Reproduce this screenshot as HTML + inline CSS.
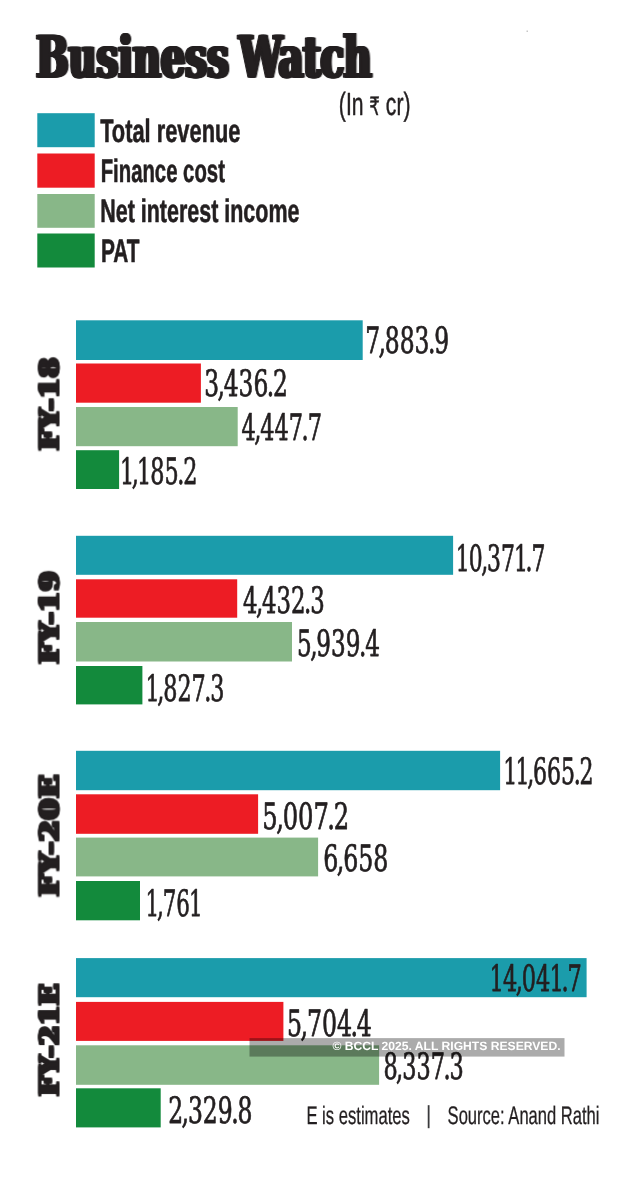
<!DOCTYPE html>
<html lang="en">
<head>
<meta charset="utf-8">
<title>Business Watch</title>
<style>
html,body{margin:0;padding:0;background:#fff;}
body{width:630px;height:1200px;overflow:hidden;}
svg{display:block;}
text{white-space:pre;}
</style>
</head>
<body>
<svg width="630" height="1200" viewBox="0 0 630 1200">
<rect x="37.3" y="113.2" width="57.4" height="34.0" fill="#1b9cab"/>
<rect x="37.3" y="153.5" width="57.4" height="34.2" fill="#ed1c24"/>
<rect x="37.3" y="194.0" width="57.4" height="33.8" fill="#88b788"/>
<rect x="37.3" y="233.5" width="57.4" height="34.0" fill="#138a3c"/>
<rect x="76.0" y="320.3" width="286.7" height="39.7" fill="#1b9cab"/>
<rect x="76.0" y="363.5" width="124.9" height="39.2" fill="#ed1c24"/>
<rect x="76.0" y="407.0" width="161.7" height="39.2" fill="#88b788"/>
<rect x="76.0" y="450.2" width="43.1" height="38.8" fill="#138a3c"/>
<rect x="76.0" y="535.8" width="377.1" height="39.0" fill="#1b9cab"/>
<rect x="76.0" y="579.3" width="161.2" height="38.4" fill="#ed1c24"/>
<rect x="76.0" y="622.0" width="216.0" height="39.5" fill="#88b788"/>
<rect x="76.0" y="666.0" width="66.4" height="38.4" fill="#138a3c"/>
<rect x="76.0" y="750.8" width="424.1" height="39.4" fill="#1b9cab"/>
<rect x="76.0" y="794.3" width="182.1" height="39.5" fill="#ed1c24"/>
<rect x="76.0" y="837.6" width="242.1" height="38.8" fill="#88b788"/>
<rect x="76.0" y="881.0" width="64.0" height="39.3" fill="#138a3c"/>
<rect x="76.0" y="958.1" width="510.6" height="39.1" fill="#1b9cab"/>
<rect x="76.0" y="1001.9" width="207.4" height="39.0" fill="#ed1c24"/>
<rect x="76.0" y="1045.3" width="303.1" height="39.5" fill="#88b788"/>
<rect x="76.0" y="1088.3" width="84.7" height="39.1" fill="#138a3c"/>
<rect x="526.5" y="30.5" width="1.5" height="1.5" fill="#c8c8c8"/>
<text transform="translate(36.40 77.00) scale(0.6750 1)" font-family='"DejaVu Serif","Liberation Serif",serif' font-weight="bold" font-size="57.07" fill="#231f20" stroke="#231f20" stroke-width="1.4" stroke-linejoin="round" word-spacing="-4.60" style="filter:drop-shadow(2.8px 0 0 #231f20) drop-shadow(-2.8px 0 0 #231f20)" text-rendering="geometricPrecision">Business <tspan letter-spacing="-0.55">Watch</tspan></text>
<text transform="translate(338.84 115.00) scale(0.6604 1)" font-family='"Liberation Sans","DejaVu Sans",sans-serif' font-weight="normal" font-size="32.01" fill="#231f20" stroke="#231f20" stroke-width="0.5" stroke-linejoin="round" text-rendering="geometricPrecision">(In <tspan font-family="DejaVu Sans,sans-serif" font-size="25.2">₹</tspan> cr)</text>
<text transform="translate(100.16 142.00) scale(0.6711 1)" font-family='"Liberation Sans","DejaVu Sans",sans-serif' font-weight="bold" font-size="32.52" fill="#231f20" stroke="#231f20" stroke-width="0.6" stroke-linejoin="round" text-rendering="geometricPrecision">Total revenue</text>
<text transform="translate(100.69 182.00) scale(0.6249 1)" font-family='"Liberation Sans","DejaVu Sans",sans-serif' font-weight="bold" font-size="32.52" fill="#231f20" stroke="#231f20" stroke-width="0.6" stroke-linejoin="round" text-rendering="geometricPrecision">Finance cost</text>
<text transform="translate(100.25 222.00) scale(0.6601 1)" font-family='"Liberation Sans","DejaVu Sans",sans-serif' font-weight="bold" font-size="32.52" fill="#231f20" stroke="#231f20" stroke-width="0.6" stroke-linejoin="round" text-rendering="geometricPrecision">Net interest income</text>
<text transform="translate(100.89 262.00) scale(0.6414 1)" font-family='"Liberation Sans","DejaVu Sans",sans-serif' font-weight="bold" font-size="32.52" fill="#231f20" stroke="#231f20" stroke-width="0.6" stroke-linejoin="round" text-rendering="geometricPrecision">PAT</text>
<text transform="translate(365.20 353.00) scale(0.7160 1)" font-family='"DejaVu Serif Condensed","DejaVu Serif","Liberation Serif",serif' font-weight="normal" font-size="36.36" fill="#231f20" stroke="#231f20" stroke-width="0.75" stroke-linejoin="round" dx="0 -2.2 -1.6 0 0 -2.2 -1.6" text-rendering="geometricPrecision">7,883.9</text>
<text transform="translate(204.14 396.00) scale(0.7137 1)" font-family='"DejaVu Serif Condensed","DejaVu Serif","Liberation Serif",serif' font-weight="normal" font-size="36.36" fill="#231f20" stroke="#231f20" stroke-width="0.75" stroke-linejoin="round" dx="0 -2.2 -1.6 0 0 -2.2 -1.6" text-rendering="geometricPrecision">3,436.2</text>
<text transform="translate(241.50 440.00) scale(0.6858 1)" font-family='"DejaVu Serif Condensed","DejaVu Serif","Liberation Serif",serif' font-weight="normal" font-size="36.36" fill="#231f20" stroke="#231f20" stroke-width="0.75" stroke-linejoin="round" dx="0 -2.2 -1.6 0 0 -2.2 -1.6" text-rendering="geometricPrecision">4,447.7</text>
<text transform="translate(120.06 484.00) scale(0.6823 1)" font-family='"DejaVu Serif Condensed","DejaVu Serif","Liberation Serif",serif' font-weight="normal" font-size="36.36" fill="#231f20" stroke="#231f20" stroke-width="0.75" stroke-linejoin="round" dx="0 -3.5 -2.9 -1.3 0 -2.2 -1.6" text-rendering="geometricPrecision">1,185.2</text>
<text transform="translate(455.64 571.00) scale(0.6687 1)" font-family='"DejaVu Serif Condensed","DejaVu Serif","Liberation Serif",serif' font-weight="normal" font-size="36.36" fill="#231f20" stroke="#231f20" stroke-width="0.75" stroke-linejoin="round" dx="0 -1.3 -2.2 -1.6 0 -1.3 -3.5 -1.6" text-rendering="geometricPrecision">10,371.7</text>
<text transform="translate(242.98 613.00) scale(0.6975 1)" font-family='"DejaVu Serif Condensed","DejaVu Serif","Liberation Serif",serif' font-weight="normal" font-size="36.36" fill="#231f20" stroke="#231f20" stroke-width="0.75" stroke-linejoin="round" dx="0 -2.2 -1.6 0 0 -2.2 -1.6" text-rendering="geometricPrecision">4,432.3</text>
<text transform="translate(296.97 656.00) scale(0.7071 1)" font-family='"DejaVu Serif Condensed","DejaVu Serif","Liberation Serif",serif' font-weight="normal" font-size="36.36" fill="#231f20" stroke="#231f20" stroke-width="0.75" stroke-linejoin="round" dx="0 -2.2 -1.6 0 0 -2.2 -1.6" text-rendering="geometricPrecision">5,939.4</text>
<text transform="translate(145.46 701.00) scale(0.6817 1)" font-family='"DejaVu Serif Condensed","DejaVu Serif","Liberation Serif",serif' font-weight="normal" font-size="36.36" fill="#231f20" stroke="#231f20" stroke-width="0.75" stroke-linejoin="round" dx="0 -3.5 -1.6 0 0 -2.2 -1.6" text-rendering="geometricPrecision">1,827.3</text>
<text transform="translate(503.21 784.00) scale(0.6739 1)" font-family='"DejaVu Serif Condensed","DejaVu Serif","Liberation Serif",serif' font-weight="normal" font-size="36.36" fill="#231f20" stroke="#231f20" stroke-width="0.75" stroke-linejoin="round" dx="0 -2.6 -3.5 -1.6 0 0 -2.2 -1.6" text-rendering="geometricPrecision">11,665.2</text>
<text transform="translate(262.36 829.00) scale(0.7403 1)" font-family='"DejaVu Serif Condensed","DejaVu Serif","Liberation Serif",serif' font-weight="normal" font-size="36.36" fill="#231f20" stroke="#231f20" stroke-width="0.75" stroke-linejoin="round" dx="0 -2.2 -1.6 0 0 -2.2 -1.6" text-rendering="geometricPrecision">5,007.2</text>
<text transform="translate(323.35 871.00) scale(0.7242 1)" font-family='"DejaVu Serif Condensed","DejaVu Serif","Liberation Serif",serif' font-weight="normal" font-size="36.36" fill="#231f20" stroke="#231f20" stroke-width="0.75" stroke-linejoin="round" dx="0 -2.2 -1.6 0 0" text-rendering="geometricPrecision">6,658</text>
<text transform="translate(145.61 916.00) scale(0.6538 1)" font-family='"DejaVu Serif Condensed","DejaVu Serif","Liberation Serif",serif' font-weight="normal" font-size="36.36" fill="#231f20" stroke="#231f20" stroke-width="0.75" stroke-linejoin="round" dx="0 -3.5 -1.6 0 -1.3" text-rendering="geometricPrecision">1,761</text>
<text transform="translate(489.60 991.00) scale(0.6869 1)" font-family='"DejaVu Serif Condensed","DejaVu Serif","Liberation Serif",serif' font-weight="normal" font-size="36.36" fill="#231f20" stroke="#231f20" stroke-width="0.75" stroke-linejoin="round" dx="0 -1.3 -2.2 -1.6 0 -1.3 -3.5 -1.6" text-rendering="geometricPrecision">14,041.7</text>
<text transform="translate(287.12 1036.00) scale(0.7230 1)" font-family='"DejaVu Serif Condensed","DejaVu Serif","Liberation Serif",serif' font-weight="normal" font-size="36.36" fill="#231f20" stroke="#231f20" stroke-width="0.75" stroke-linejoin="round" dx="0 -2.2 -1.6 0 0 -2.2 -1.6" text-rendering="geometricPrecision">5,704.4</text>
<text transform="translate(383.38 1079.00) scale(0.6848 1)" font-family='"DejaVu Serif Condensed","DejaVu Serif","Liberation Serif",serif' font-weight="normal" font-size="36.36" fill="#231f20" stroke="#231f20" stroke-width="0.75" stroke-linejoin="round" dx="0 -2.2 -1.6 0 0 -2.2 -1.6" text-rendering="geometricPrecision">8,337.3</text>
<text transform="translate(168.25 1123.00) scale(0.7179 1)" font-family='"DejaVu Serif Condensed","DejaVu Serif","Liberation Serif",serif' font-weight="normal" font-size="36.36" fill="#231f20" stroke="#231f20" stroke-width="0.75" stroke-linejoin="round" dx="0 -2.2 -1.6 0 0 -2.2 -1.6" text-rendering="geometricPrecision">2,329.8</text>
<text transform="translate(58.55 449.32) rotate(-90) scale(1.0381 1)" font-family='"DejaVu Serif","Liberation Serif",serif' font-weight="bold" font-size="26.78" fill="#231f20" stroke="#231f20" stroke-width="1.5" stroke-linejoin="miter" letter-spacing="1.2" style="filter:drop-shadow(1.4px 0 0 #231f20) drop-shadow(-1.4px 0 0 #231f20)" text-rendering="geometricPrecision">FY-18</text>
<text transform="translate(58.55 662.77) rotate(-90) scale(1.0348 1)" font-family='"DejaVu Serif","Liberation Serif",serif' font-weight="bold" font-size="26.78" fill="#231f20" stroke="#231f20" stroke-width="1.5" stroke-linejoin="miter" letter-spacing="1.2" style="filter:drop-shadow(1.4px 0 0 #231f20) drop-shadow(-1.4px 0 0 #231f20)" text-rendering="geometricPrecision">FY-19</text>
<text transform="translate(58.55 895.29) rotate(-90) scale(1.0944 1)" font-family='"DejaVu Serif","Liberation Serif",serif' font-weight="bold" font-size="26.78" fill="#231f20" stroke="#231f20" stroke-width="1.5" stroke-linejoin="miter" letter-spacing="1.2" style="filter:drop-shadow(1.4px 0 0 #231f20) drop-shadow(-1.4px 0 0 #231f20)" text-rendering="geometricPrecision">FY-20E</text>
<text transform="translate(58.55 1095.07) rotate(-90) scale(1.0119 1)" font-family='"DejaVu Serif","Liberation Serif",serif' font-weight="bold" font-size="26.78" fill="#231f20" stroke="#231f20" stroke-width="1.5" stroke-linejoin="miter" letter-spacing="1.2" style="filter:drop-shadow(1.4px 0 0 #231f20) drop-shadow(-1.4px 0 0 #231f20)" text-rendering="geometricPrecision">FY-21E</text>
<text transform="translate(306.42 1124.00) scale(0.6569 1)" font-family='"Liberation Sans","DejaVu Sans",sans-serif' font-weight="normal" font-size="25.30" fill="#231f20" stroke="#231f20" stroke-width="0.3" stroke-linejoin="round" text-rendering="geometricPrecision">E is estimates</text>
<text transform="translate(425.67 1123.05) scale(0.9031 1)" font-family='"Liberation Sans","DejaVu Sans",sans-serif' font-weight="normal" font-size="24.58" fill="#3a3a3c" text-rendering="geometricPrecision">|</text>
<text transform="translate(447.59 1124.00) scale(0.6545 1)" font-family='"Liberation Sans","DejaVu Sans",sans-serif' font-weight="normal" font-size="25.30" fill="#231f20" stroke="#231f20" stroke-width="0.3" stroke-linejoin="round" text-rendering="geometricPrecision">Source: Anand Rathi</text>
<rect x="249.5" y="1038.1" width="315" height="18.5" fill="#000" fill-opacity="0.33"/>
<text transform="translate(332.38 1050.00) scale(1.0106 1)" font-family='"Liberation Sans","DejaVu Sans",sans-serif' font-weight="bold" font-size="12.00" fill="#ffffff" text-rendering="geometricPrecision">© BCCL 2025. ALL RIGHTS RESERVED.</text>
</svg>
</body>
</html>
